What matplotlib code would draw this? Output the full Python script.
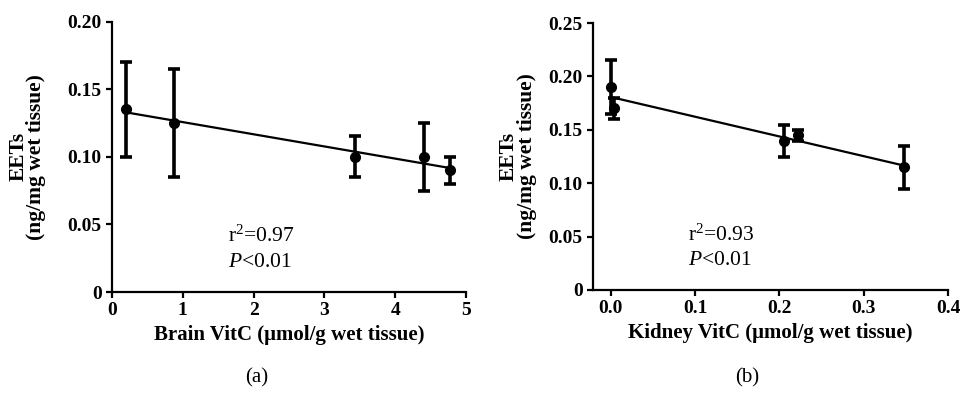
import numpy as np
import matplotlib
matplotlib.use('Agg')
import matplotlib.pyplot as plt

plt.rcParams['font.family'] = ['Liberation Serif', 'DejaVu Serif']
plt.rcParams['mathtext.fontset'] = 'custom'
plt.rcParams['mathtext.rm'] = 'Liberation Serif'
plt.rcParams['mathtext.it'] = 'Liberation Serif:italic'

# (a) brain
brain_vitc = [0.2, 0.88, 3.43, 4.40, 4.78]
brain_eets = [0.135, 0.125, 0.100, 0.100, 0.090]
brain_err = [0.035, 0.040, 0.015, 0.025, 0.010]

# (b) kidney
kidney_vitc = [0.0, 0.004, 0.205, 0.222, 0.348]
kidney_eets = [0.190, 0.170, 0.140, 0.145, 0.115]
kidney_err = [0.025, 0.010, 0.015, 0.005, 0.020]

brain_xticks = [0, 1, 2, 3, 4, 5]
brain_xlabels = ['0', '1', '2', '3', '4', '5']
brain_yticks = [0, 0.05, 0.10, 0.15, 0.20]
brain_ylabels = ['0', '0.05', '0.10', '0.15', '0.20']

kidney_xticks = [0.0, 0.1, 0.2, 0.3, 0.4]
kidney_xlabels = ['0.0', '0.1', '0.2', '0.3', '0.4']
kidney_yticks = [0, 0.05, 0.10, 0.15, 0.20, 0.25]
kidney_ylabels = ['0', '0.05', '0.10', '0.15', '0.20', '0.25']

fig = plt.figure(figsize=(9.62, 3.96), dpi=100)
ax1 = fig.add_axes([0.1164, 0.2626, 0.368, 0.683])
ax2 = fig.add_axes([0.6164, 0.2677, 0.369, 0.674])


def panel(ax, x, y, err, xlim, ylim, xt, xl, yt, yl, xlabel, stats, stat_x,
          ylab_x, tag, tag_x):
    ax.errorbar(x, y, yerr=err, fmt='o', color='black', ms=7,
                elinewidth=2.6, capsize=4, capthick=2.6, zorder=3)
    k, b = np.polyfit(x, y, 1)
    xs = np.array([min(x), max(x)])
    ax.plot(xs, k * xs + b, color='black', lw=1.6, zorder=2)
    ax.set_xlim(*xlim)
    ax.set_ylim(*ylim)
    ax.set_xticks(xt)
    ax.set_xticklabels(xl)
    ax.set_yticks(yt)
    ax.set_yticklabels(yl)
    for s in ['top', 'right']:
        ax.spines[s].set_visible(False)
    for s in ['left', 'bottom']:
        ax.spines[s].set_linewidth(1.6)
    ax.tick_params(direction='out', length=4.5, width=1.6, labelsize=14, pad=3)
    for t in ax.get_xticklabels() + ax.get_yticklabels():
        t.set_fontweight('bold')
    ax.set_xlabel(xlabel, fontsize=15, fontweight='bold', labelpad=4)
    ax.set_ylabel('EETs\n(ng/mg wet tissue)', fontsize=15.5, fontweight='bold',
                  linespacing=0.85)
    ax.yaxis.set_label_coords(ylab_x, 0.5)
    ax.text(stat_x, 0.185, stats[0], transform=ax.transAxes, fontsize=15.5,
            ha='left', va='baseline')
    ax.text(stat_x, 0.093, stats[1], transform=ax.transAxes, fontsize=15.5,
            ha='left', va='baseline')
    fig.text(tag_x, 0.0455, tag, fontsize=15, ha='center', va='center')


panel(ax1, brain_vitc, brain_eets, brain_err, (0, 5), (0, 0.2),
      brain_xticks, brain_xlabels, brain_yticks, brain_ylabels,
      'Brain VitC (\u03bcmol/g wet tissue)',
      ('r$^2$=0.97', '$P$<0.01'), 0.328, -0.186, '(a)', 0.267)
panel(ax2, kidney_vitc, kidney_eets, kidney_err, (-0.021, 0.4), (0, 0.25),
      kidney_xticks, kidney_xlabels, kidney_yticks, kidney_ylabels,
      'Kidney VitC (\u03bcmol/g wet tissue)',
      ('r$^2$=0.93', '$P$<0.01'), 0.268, -0.158, '(b)', 0.777)

fig.savefig('out.png', dpi=100)
